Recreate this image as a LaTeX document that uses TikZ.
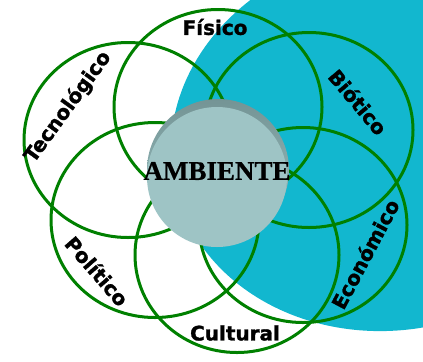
\documentclass[tikz,border=0pt]{standalone}
\usepackage{fontspec}
\newfontfamily\labelfont{DejaVu Sans Bold}[FakeBold=1.4]
\newfontfamily\centerfont{Liberation Serif Bold}[FakeBold=0.6]
\definecolor{tealbg}{RGB}{18,183,207}
\definecolor{ringgreen}{RGB}{0,128,0}
\definecolor{discface}{RGB}{158,196,197}
\definecolor{discrim}{RGB}{116,148,149}

\tikzset{every picture/.style={line width=0.75pt}}
\tikzset{
  ring/.style={draw=ringgreen, line width=2.25pt},
  ringlabel/.style={inner sep=0.75pt, font=\labelfont\fontsize{15}{18}\selectfont}
}

\begin{document}
\begin{tikzpicture}[x=0.75pt,y=0.75pt,yscale=-1,xscale=1]
\useasboundingbox (0,0) rectangle (423,361);
\clip (0,0) rectangle (423,361);

%Shape: Ellipse (background)
\fill [tealbg, rotate around={-10:(392,140)}] (392,140) ellipse [x radius=222, y radius=190];

%Shape: Ellipse
\draw [ring] (218,107) ellipse [x radius=104, y radius=97.5];
%Shape: Ellipse
\draw [ring] (309,130) ellipse [x radius=104, y radius=97.5];
%Shape: Ellipse
\draw [ring] (303,225) ellipse [x radius=104, y radius=97.5];
%Shape: Ellipse
\draw [ring] (237,255) ellipse [x radius=102, y radius=97.5];
%Shape: Ellipse
\draw [ring] (155,220) ellipse [x radius=104, y radius=97.5];
%Shape: Ellipse
\draw [ring] (128,140) ellipse [x radius=104, y radius=97.5];

%Shape: Disc rim
\shade [top color=discrim, bottom color=discface] (218,170) circle [radius=71];
%Shape: Disc face
\fill [discface] (217,177) circle [radius=70];

% Text Node
\node [inner sep=0.75pt, font=\centerfont\fontsize{20.25}{24}\selectfont] (ambiente) at (217,171) {AMBIENTE};
% Text Node
\node [ringlabel] (fisico) at (215,27) {Físico};
% Text Node
\node [ringlabel, rotate=-50] (biotico) at (358,102) {Biótico};
% Text Node
\node [ringlabel, rotate=62] (economico) at (365,254) {Económico};
% Text Node
\node [ringlabel] (cultural) at (235,333) {Cultural};
% Text Node
\node [ringlabel, rotate=-49] (politico) at (97,271) {Político};
% Text Node
\node [ringlabel, rotate=54] (tecnologico) at (68,107) {Tecnológico};

\end{tikzpicture}
\end{document}
